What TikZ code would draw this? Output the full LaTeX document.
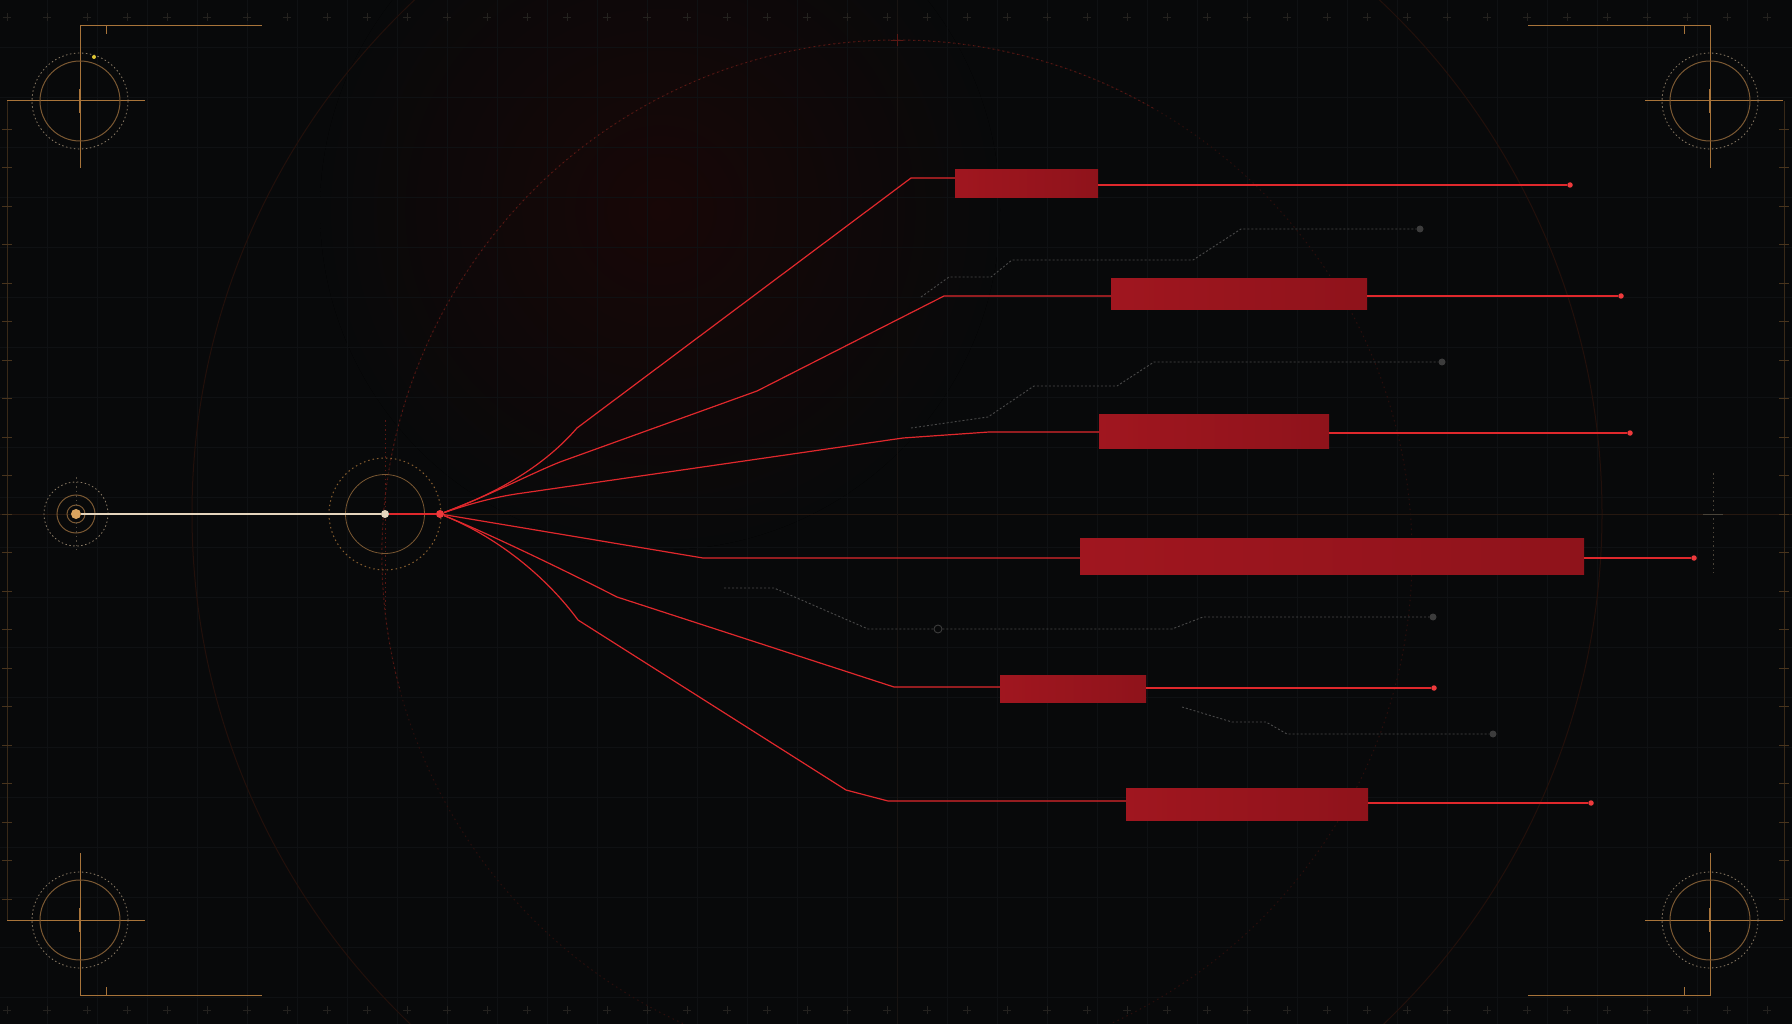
\documentclass[tikz,border=0pt]{standalone}
\usetikzlibrary{calc}
\definecolor{bg}{HTML}{08090A}
\definecolor{glowc}{HTML}{180707}
\definecolor{gridc}{HTML}{0F1113}
\definecolor{bigcirc}{HTML}{22100B}
\definecolor{dotcirc}{HTML}{5A1814}
\definecolor{dotcircdim}{HTML}{2A0E0C}
\definecolor{axisc}{HTML}{261810}
\definecolor{linered}{HTML}{E0282C}
\definecolor{dotred}{HTML}{EE3A3C}
\definecolor{barL}{HTML}{A0161F}
\definecolor{barR}{HTML}{8F131B}
\definecolor{grayline}{HTML}{4A4A4A}
\definecolor{graydot}{HTML}{3C3C3C}
\definecolor{goldc}{HTML}{A8743A}
\definecolor{golddim}{HTML}{7A5832}
\definecolor{goldpale}{HTML}{8C7C66}
\definecolor{cream}{HTML}{E5D5BD}
\definecolor{srcdot}{HTML}{D9A35F}
\definecolor{tickc}{HTML}{24221F}
\begin{document}
\begin{tikzpicture}[x=1pt,y=-1pt,
  redline/.style={draw=linered, line width=1.2pt, line join=round},
  barbox/.style={rectangle, inner sep=0pt, left color=barL, right color=barR, draw=none},
  enddot/.style={circle, fill=dotred, inner sep=0pt, minimum size=5.5pt},
  gdot/.style={circle, fill=graydot, inner sep=0pt, minimum size=7pt},
  dotline/.style={draw=grayline, line width=0.9pt, dash pattern=on 2pt off 2pt},
  goldline/.style={draw=goldc, line width=1pt},
  goldring/.style={draw=golddim, line width=1pt},
  goldpaledot/.style={draw=goldpale, line width=0.8pt, dash pattern=on 1.5pt off 2.5pt},
  tick/.style={draw=tickc, line width=0.8pt}]
\useasboundingbox (0,0) rectangle (1792,1024);
\fill[bg] (0,0) rectangle (1792,1024);
\begin{scope}
\clip (0,0) rectangle (1792,1024);
% glow
\fill[inner color=glowc, outer color=bg] (660,210) circle[radius=340pt];
% grid
\foreach \x in {47,97,...,1797} \draw[gridc, line width=0.6pt] (\x,0) -- (\x,1024);
\foreach \y in {47,97,...,1047} \draw[gridc, line width=0.6pt] (0,\y) -- (1792,\y);
% large circles
\draw[bigcirc, line width=1pt] (897,514) circle[radius=705pt];
\draw[dotcircdim, line width=1pt, dash pattern=on 1.5pt off 3.5pt] (897,555) circle[radius=515pt];
\draw[dotcirc, line width=1pt, dash pattern=on 1.5pt off 3.5pt] (897,555) ++(195:515pt) arc[start angle=195, end angle=60, radius=515pt];
% axis lines
\draw[axisc, line width=0.8pt] (0,514) -- (1792,514);
\draw[gridc!60!axisc, line width=0.8pt] (897,0) -- (897,1024);
\draw[dotcirc, line width=0.8pt, dash pattern=on 1.5pt off 3pt] (385,420) -- (385,610);
\draw[goldpale!50!bg, line width=0.8pt, dash pattern=on 1.5pt off 3pt] (1713,473) -- (1713,573);
\draw[goldpale!50!bg, line width=0.8pt] (1703,514) -- (1723,514);
\draw[dotcirc, line width=0.8pt] (891,40) -- (903,40) (897,34) -- (897,46);
\end{scope}
% edge ticks
\foreach \x in {7,47,...,1787} {
  \draw[tick] (\x-4,17) -- (\x+4,17) (\x,13) -- (\x,21);
  \draw[tick] (\x-4,1010) -- (\x+4,1010) (\x,1006) -- (\x,1014);
}
\draw[goldc!30!bg, line width=0.8pt] (7,101) -- (7,920);
\draw[goldc!30!bg, line width=0.8pt] (1784,101) -- (1784,920);
\foreach \k in {-10,...,10} {
  \draw[goldc!40!bg, line width=0.8pt] (2,514+38.5*\k) -- (12,514+38.5*\k);
  \draw[goldc!40!bg, line width=0.8pt] (1779,514+38.5*\k) -- (1789,514+38.5*\k);
}
% corner reticles
\foreach \cx/\cy/\sx/\sy in {80/101/1/1, 1710/101/-1/1, 80/920/1/-1, 1710/920/-1/-1} {
  \draw[goldline] (\cx+\sx*182,\cy-\sy*75) -- (\cx,\cy-\sy*75) -- (\cx,\cy+\sy*67);
  \draw[goldline] (\cx-\sx*73,\cy) -- (\cx+\sx*65,\cy);
  \draw[goldline] (\cx+\sx*26,\cy-\sy*75) -- (\cx+\sx*26,\cy-\sy*67);
  \draw[goldring] (\cx,\cy) circle[radius=40pt];
  \draw[goldpaledot] (\cx,\cy) circle[radius=48pt];
  \draw[goldc, line width=2pt] (\cx,\cy-12) -- (\cx,\cy+12);
}
\fill[yellow!60!goldc] (94,57) circle[radius=2pt];
% source and hub
\draw[goldpaledot] (76,514) circle[radius=32pt];
\draw[goldring] (76,514) circle[radius=19pt];
\draw[goldring] (76,514) circle[radius=9pt];
\draw[goldpale!60!bg, line width=0.8pt, dash pattern=on 1.5pt off 3pt] (76,477) -- (76,550);
\draw[goldring, line width=0.8pt] (385,514) circle[radius=39.5pt];
\draw[goldc!80!bg, line width=1pt, dash pattern=on 1.5pt off 3pt] (385,514) circle[radius=56pt];
\node[circle, fill=srcdot, inner sep=0pt, minimum size=10pt] (src) at (76,514) {};
\node[circle, fill=cream, inner sep=0pt, minimum size=8pt] (hub) at (385,514) {};
\node[circle, fill=dotred, inner sep=0pt, minimum size=8pt] (J) at (440,514) {};
\draw[cream, line width=2pt] (src) -- (hub);
\draw[linered, line width=2pt] (hub) -- (J);
% gray dotted traces
\node[gdot] (gA) at (1420,229) {};
\node[gdot] (gB) at (1442,362) {};
\node[gdot] (gC) at (1433,617) {};
\node[gdot] (gD) at (1493,734) {};
\node[circle, draw=graydot, line width=0.9pt, inner sep=0pt, minimum size=8pt] (gc) at (938,629) {};
\coordinate (sA) at (921,297);
\coordinate (sB) at (911,428);
\coordinate (sC) at (724,588);
\coordinate (sD) at (1182,707);
\draw[dotline] (sA) -- (949,277) -- (991,277) -- (1012,260) -- (1193,260) -- (1241,229) -- (gA);
\draw[dotline] (sB) -- (988,417) -- (1034,386) -- (1117,386) -- (1154,362) -- (gB);
\draw[dotline] (sC) -- (774,588) -- (868,629) -- (gc) -- (1172,629) -- (1203,617) -- (gC);
\draw[dotline] (sD) -- (1232,722) -- (1266,722) -- (1287,734) -- (gD);
% bars
\node[barbox, minimum width=143pt, minimum height=28pt] (b1) at (1026.5,184) {};
\node[barbox, minimum width=256pt, minimum height=31pt] (b2) at (1239,294.5) {};
\node[barbox, minimum width=230pt, minimum height=34pt] (b3) at (1214,431) {};
\node[barbox, minimum width=504pt, minimum height=36pt] (b4) at (1332,556) {};
\node[barbox, minimum width=146pt, minimum height=27pt] (b5) at (1073,689) {};
\node[barbox, minimum width=242pt, minimum height=32pt] (b6) at (1247,804) {};
% end dots
\node[enddot] (e1) at (1570,185) {};
\node[enddot] (e2) at (1621,296) {};
\node[enddot] (e3) at (1630,433) {};
\node[enddot] (e4) at (1694,558) {};
\node[enddot] (e5) at (1434,688) {};
\node[enddot] (e6) at (1591,803) {};
% red fan
\draw[redline] (J) .. controls (500,492) and (545,465) .. (577,428) -- (911,178) -- (b1.west |- 0,178);
\draw[redline] (J) .. controls (495,493) and (530,474) .. (560,462) -- (757,391) -- (944,296) -- (b2.west |- 0,296);
\draw[redline] (J) .. controls (475,502) and (500,496) .. (523,493) -- (903,438) -- (989,432) -- (b3.west |- 0,432);
\draw[redline] (J) -- (703,558) -- (b4.west |- 0,558);
\draw[redline] (J) .. controls (485,532) and (560,568) .. (617,597) -- (894,687) -- (b5.west |- 0,687);
\draw[redline] (J) .. controls (495,536) and (545,575) .. (578,620) -- (846,790) -- (888,801) -- (b6.west |- 0,801);
% right leads
\draw[redline] (b1.east |- e1) -- (e1);
\draw[redline] (b2.east |- e2) -- (e2);
\draw[redline] (b3.east |- e3) -- (e3);
\draw[redline] (b4.east |- e4) -- (e4);
\draw[redline] (b5.east |- e5) -- (e5);
\draw[redline] (b6.east |- e6) -- (e6);
\end{tikzpicture}
\end{document}
